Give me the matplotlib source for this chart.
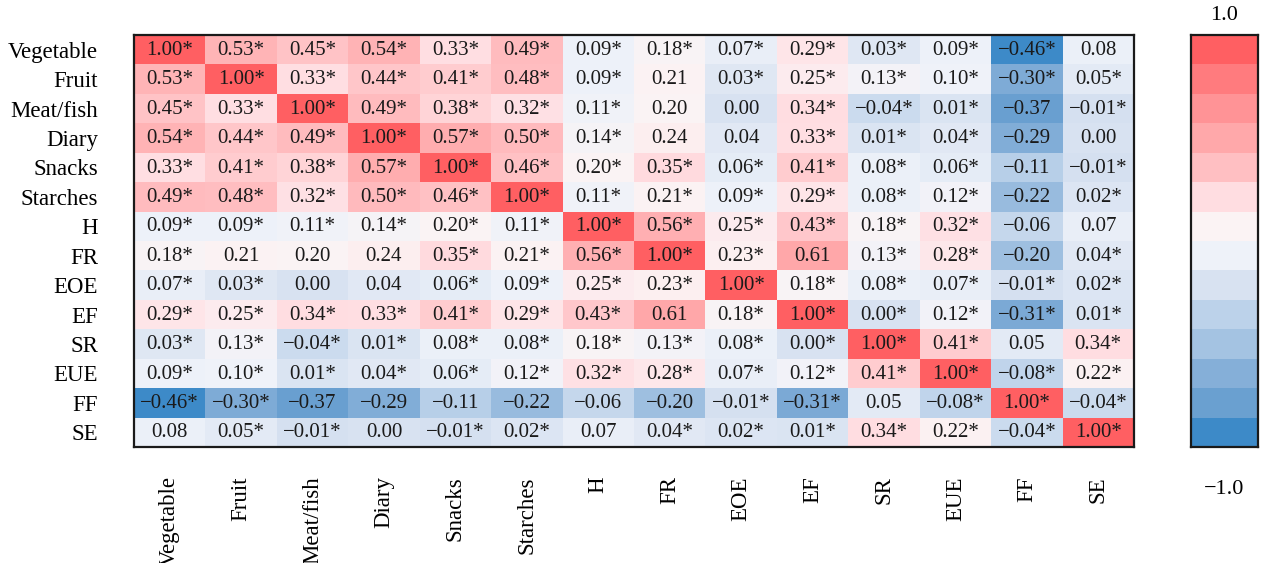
import numpy as np
import matplotlib
matplotlib.use("Agg")
import matplotlib.pyplot as plt
from matplotlib.colors import LinearSegmentedColormap, ListedColormap, TwoSlopeNorm

labels = ["Vegetable", "Fruit", "Meat/fish", "Diary", "Snacks", "Starches",
          "H", "FR", "EOE", "EF", "SR", "EUE", "FF", "SE"]

corr = [
    [1.00, 0.53, 0.45, 0.54, 0.33, 0.49, 0.09, 0.18, 0.07, 0.29, 0.03, 0.09, -0.46, 0.08],
    [0.53, 1.00, 0.33, 0.44, 0.41, 0.48, 0.09, 0.21, 0.03, 0.25, 0.13, 0.10, -0.30, 0.05],
    [0.45, 0.33, 1.00, 0.49, 0.38, 0.32, 0.11, 0.20, 0.00, 0.34, -0.04, 0.01, -0.37, -0.01],
    [0.54, 0.44, 0.49, 1.00, 0.57, 0.50, 0.14, 0.24, 0.04, 0.33, 0.01, 0.04, -0.29, 0.00],
    [0.33, 0.41, 0.38, 0.57, 1.00, 0.46, 0.20, 0.35, 0.06, 0.41, 0.08, 0.06, -0.11, -0.01],
    [0.49, 0.48, 0.32, 0.50, 0.46, 1.00, 0.11, 0.21, 0.09, 0.29, 0.08, 0.12, -0.22, 0.02],
    [0.09, 0.09, 0.11, 0.14, 0.20, 0.11, 1.00, 0.56, 0.25, 0.43, 0.18, 0.32, -0.06, 0.07],
    [0.18, 0.21, 0.20, 0.24, 0.35, 0.21, 0.56, 1.00, 0.23, 0.61, 0.13, 0.28, -0.20, 0.04],
    [0.07, 0.03, 0.00, 0.04, 0.06, 0.09, 0.25, 0.23, 1.00, 0.18, 0.08, 0.07, -0.01, 0.02],
    [0.29, 0.25, 0.34, 0.33, 0.41, 0.29, 0.43, 0.61, 0.18, 1.00, 0.00, 0.12, -0.31, 0.01],
    [0.03, 0.13, -0.04, 0.01, 0.08, 0.08, 0.18, 0.13, 0.08, 0.00, 1.00, 0.41, 0.05, 0.34],
    [0.09, 0.10, 0.01, 0.04, 0.06, 0.12, 0.32, 0.28, 0.07, 0.12, 0.41, 1.00, -0.08, 0.22],
    [-0.46, -0.30, -0.37, -0.29, -0.11, -0.22, -0.06, -0.20, -0.01, -0.31, 0.05, -0.08, 1.00, -0.04],
    [0.08, 0.05, -0.01, 0.00, -0.01, 0.02, 0.07, 0.04, 0.02, 0.01, 0.34, 0.22, -0.04, 1.00],
]

sig = [
    [1, 1, 1, 1, 1, 1, 1, 1, 1, 1, 1, 1, 1, 0],
    [1, 1, 1, 1, 1, 1, 1, 0, 1, 1, 1, 1, 1, 1],
    [1, 1, 1, 1, 1, 1, 1, 0, 0, 1, 1, 1, 0, 1],
    [1, 1, 1, 1, 1, 1, 1, 0, 0, 1, 1, 1, 0, 0],
    [1, 1, 1, 1, 1, 1, 1, 1, 1, 1, 1, 1, 0, 1],
    [1, 1, 1, 1, 1, 1, 1, 1, 1, 1, 1, 1, 0, 1],
    [1, 1, 1, 1, 1, 1, 1, 1, 1, 1, 1, 1, 0, 0],
    [1, 0, 0, 0, 1, 1, 1, 1, 1, 0, 1, 1, 0, 1],
    [1, 1, 0, 0, 1, 1, 1, 1, 1, 1, 1, 1, 1, 1],
    [1, 1, 1, 1, 1, 1, 1, 0, 1, 1, 1, 1, 1, 1],
    [1, 1, 1, 1, 1, 1, 1, 1, 1, 1, 1, 1, 0, 1],
    [1, 1, 1, 1, 1, 1, 1, 1, 1, 1, 1, 1, 1, 1],
    [1, 1, 0, 0, 0, 0, 0, 0, 1, 1, 0, 1, 1, 1],
    [0, 1, 1, 0, 1, 1, 0, 1, 1, 1, 1, 1, 1, 1],
]

bar_colors = ["#3D8AC8", "#6AA0D0", "#85AFD8", "#A4C3E2", "#BCD2EA", "#D8E2F1", "#EEF2F9",
              "#FBF3F4", "#FFDDE1", "#FFBFC2", "#FFA8AA", "#FF9396", "#FF7B7E", "#FF5F62"]

FONT = ["Liberation Serif", "DejaVu Serif"]
plt.rcParams["font.family"] = FONT

W, H = 1264, 563
fig = plt.figure(figsize=(W / 100, H / 100), dpi=100)

# heatmap axes
l, r, t, b = 134, 1134, 35, 447
ax = fig.add_axes([l / W, 1 - b / H, (r - l) / W, (b - t) / H])

data = np.array(corr)
cmap = LinearSegmentedColormap.from_list("rb", bar_colors)
norm = TwoSlopeNorm(vmin=-0.46, vcenter=0.14, vmax=1.0)
n = len(labels)
ax.pcolormesh(np.arange(n + 1), np.arange(n + 1), data, cmap=cmap, norm=norm)
ax.set_xlim(0, n)
ax.set_ylim(n, 0)

for i in range(n):
    for j in range(n):
        v = corr[i][j]
        s = f"{abs(v):.2f}"
        if v < 0:
            s = "\u2212" + s
        if sig[i][j]:
            s += "*"
        ax.text(j + 0.5, i + 0.52, s, ha="center", va="center", fontsize=15,
                color="#1a1a1a", family=FONT)

ax.set_xticks(np.arange(n) + 0.5)
ax.set_yticks(np.arange(n) + 0.5)
ax.set_xticklabels(labels, rotation=90, fontsize=16.5, va="top", ha="center")
ax.set_yticklabels(labels, fontsize=16.5)
ax.tick_params(axis="both", length=0)
ax.tick_params(axis="x", pad=21)
ax.tick_params(axis="y", pad=26)
for sp in ax.spines.values():
    sp.set_linewidth(1.6)
    sp.set_color("#1a1a1a")

# colorbar axes (discrete)
cl, cr = 1191, 1258
cax = fig.add_axes([cl / W, 1 - b / H, (cr - cl) / W, (b - t) / H])
nb = len(bar_colors)
cax.pcolormesh([0, 1], np.arange(nb + 1), np.arange(nb).reshape(-1, 1),
               cmap=ListedColormap(bar_colors), vmin=-0.5, vmax=nb - 0.5)
cax.set_xlim(0, 1)
cax.set_ylim(0, nb)
cax.set_xticks([])
cax.set_yticks([])
for sp in cax.spines.values():
    sp.set_linewidth(1.6)
    sp.set_color("#1a1a1a")
cax.text(0.5, 1.0 + 19 / (b - t), "1.0", transform=cax.transAxes, ha="center",
         va="center", fontsize=16)
cax.text(0.5, -43 / (b - t), "\u22121.0", transform=cax.transAxes, ha="center",
         va="center", fontsize=16)

fig.savefig("out.png", dpi=100, facecolor="white")
